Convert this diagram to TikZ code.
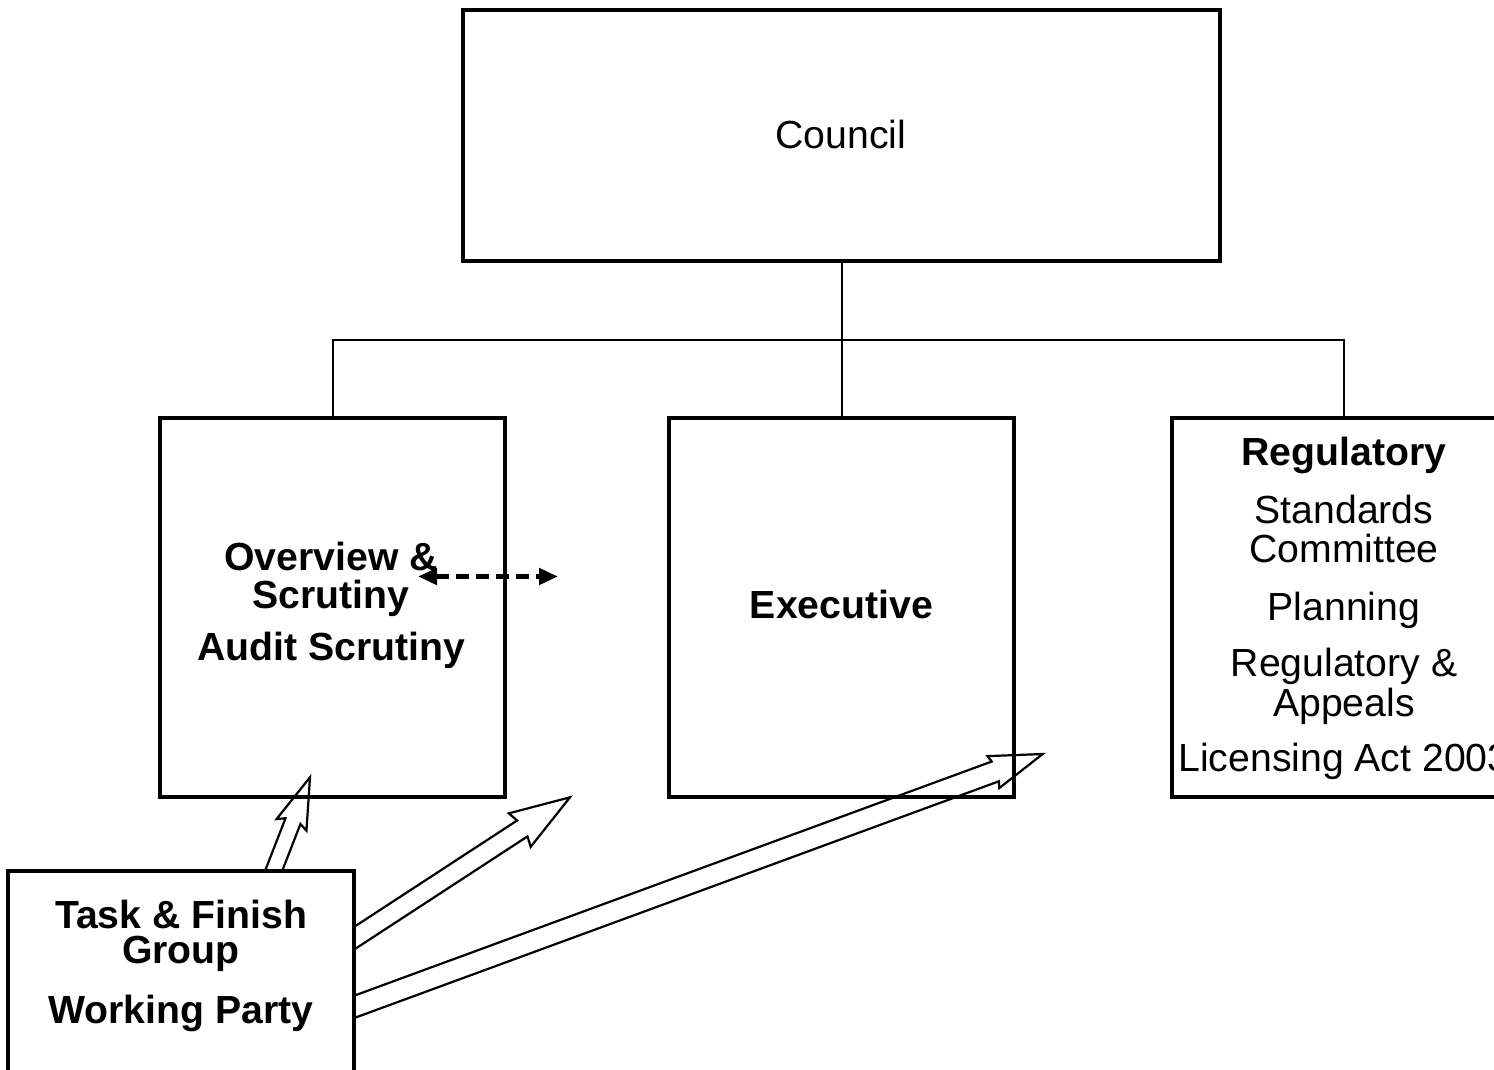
\documentclass[tikz,border=0pt]{standalone}
\usepackage{fontspec}
\setmainfont{Liberation Sans}
\usetikzlibrary{calc,arrows.meta}
\tikzset{
  box/.style={draw, line width=1.6pt, inner sep=0pt, minimum width=#1},
  box/.default=172.5pt,
  tree/.style={line width=1pt},
  hollowline/.style={line width=1.1pt, line join=miter},
  dasharrow/.style={line width=2.6pt, dash pattern=on 6.5pt off 3.5pt,
    {Triangle[length=9.5pt,width=8pt]}-{Triangle[length=9.5pt,width=8pt]}},
  txt/.style={anchor=base, inner sep=0pt, font=\fontsize{19.6}{20}\selectfont},
  btxt/.style={txt, font=\fontsize{19.6}{20}\selectfont\bfseries},
}
\newcommand\hollowarrow[6]{% #1 tail, #2 tip, #3 shaft half, #4 neck, #5 barb, #6 head half
  \path ($(#2)!#4!(#1)$) coordinate (hN) ($(#2)!#5!(#1)$) coordinate (hB);
  \draw[hollowline] ($(#1)!#3!90:(#2)$) -- ($(hN)!#3!90:(#2)$) -- ($(hB)!#6!90:(#2)$)
     -- (#2) -- ($(hB)!#6!-90:(#2)$) -- ($(hN)!#3!-90:(#2)$) -- ($(#1)!#3!-90:(#2)$);
}
\begin{document}
\begin{tikzpicture}[x=0.5pt,y=-0.5pt]
\useasboundingbox (0,0) rectangle (1494,1070);
% boxes
\node[box=378.5pt, minimum height=125.5pt] (council) at (841.5,135.5) {};
\node[box, minimum height=189.5pt] (os) at (332.5,607.5) {};
\node[box, minimum height=189.5pt] (exec) at (841.5,607.5) {};
\node[box=172pt, minimum height=189.5pt] (reg) at (1344,607.5) {};
% tree connectors
\coordinate (junc) at ($(council.south)!0.5!(exec.north)$);
\draw[tree] (council.south) -- (exec.north);
\draw[tree] (os.north) |- (junc) -| (reg.north);
% dashed double arrow
\coordinate (dL) at (418,576.5);
\coordinate (dR) at (558,576.5);
\draw[dasharrow] (dL) -- (dR);
% hollow arrows
\coordinate (t1) at (262.4,899.8);
\coordinate (p1) at (310,777.3);
\coordinate (t2) at (333,952);
\coordinate (p2) at (570,797.3);
\coordinate (t3) at (329.8,1015.8);
\coordinate (p3) at (1042.7,754);
\hollowarrow{t1}{p1}{4pt}{23.5pt}{25.5pt}{8pt}
\hollowarrow{t2}{p2}{4.75pt}{28.5pt}{30pt}{10pt}
\hollowarrow{t3}{p3}{5.25pt}{25.25pt}{26.25pt}{8.5pt}
% task box on top
\node[box=173pt, minimum height=119.5pt, fill=white] (task) at (181,990.5) {};
% texts
\node[txt] (tcouncil) at (841,148.3) {Council};
\node[btxt] (tos1) at (331,570) {Overview \&};
\node[btxt] (tos2) at (331,608.3) {Scrutiny};
\node[btxt] (tos3) at (331,660) {Audit Scrutiny};
\node[btxt] (texec) at (841.5,618.3) {Executive};
\node[btxt] (treg1) at (1344,465) {Regulatory};
\node[txt] (treg2) at (1344,523.3) {Standards};
\node[txt] (treg3) at (1344,562.7) {Committee};
\node[txt] (treg4) at (1344,620) {Planning};
\node[txt] (treg5) at (1344,676.7) {Regulatory \&};
\node[txt] (treg6) at (1344,716.7) {Appeals};
\node[txt] (treg7) at (1344,771) {Licensing Act 2003};
\node[btxt] (ttask1) at (181,928.3) {Task \& Finish};
\node[btxt] (ttask2) at (181,963.3) {Group};
\node[btxt] (ttask3) at (181,1023.3) {Working Party};
\end{tikzpicture}
\end{document}
